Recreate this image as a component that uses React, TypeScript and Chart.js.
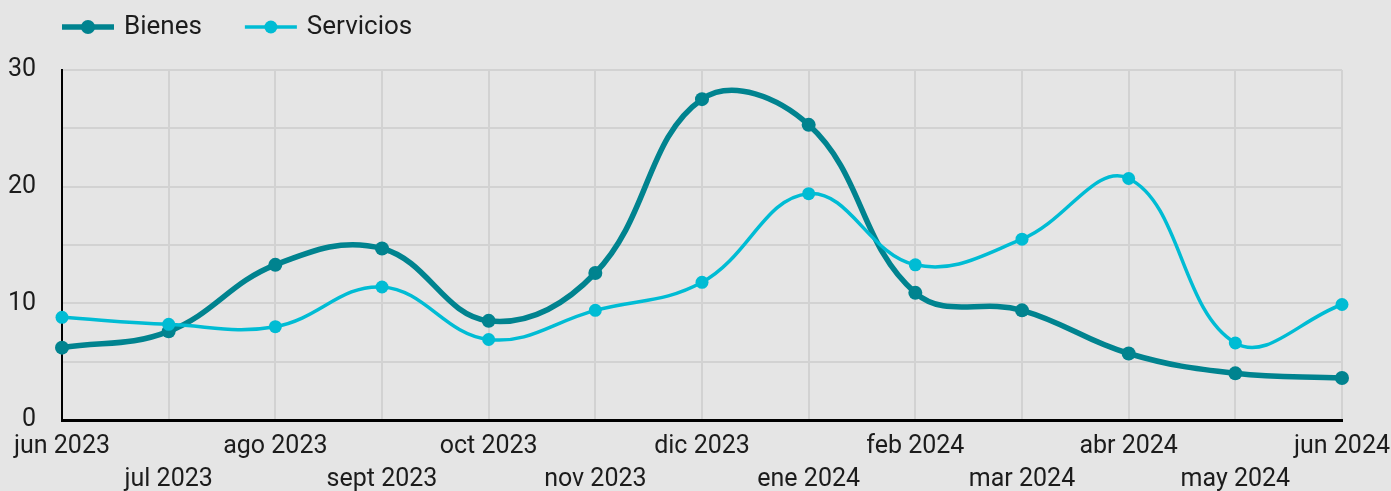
import React, { useEffect, useRef } from 'react';
import { Chart, registerables } from 'chart.js';

Chart.register(...registerables);

const categories = [
  'jun 2023', 'jul 2023', 'ago 2023', 'sept 2023', 'oct 2023', 'nov 2023', 'dic 2023',
  'ene 2024', 'feb 2024', 'mar 2024', 'abr 2024', 'may 2024', 'jun 2024',
];
const bienes = [6.2, 7.6, 13.3, 14.7, 8.5, 12.6, 27.5, 25.3, 10.9, 9.4, 5.7, 4.0, 3.6];
const servicios = [8.8, 8.2, 8.0, 11.4, 6.9, 9.4, 11.8, 19.4, 13.3, 15.5, 20.7, 6.6, 9.9];
const yTickLabels = [0, 10, 20, 30];

const BG = '#e5e5e5';
const GRID = '#d2d2d2';
const TEXT = '#1c1c1c';
const FONT = 'Roboto';

const bgPlugin = {
  id: 'bg',
  beforeDraw(chart: any) {
    const ctx = chart.ctx;
    ctx.save();
    ctx.fillStyle = BG;
    ctx.fillRect(0, 0, chart.width, chart.height);
    ctx.restore();
  },
};

const legendPlugin = {
  id: 'customLegend',
  afterDraw(chart: any) {
    const ctx = chart.ctx;
    let x = chart.chartArea.left;
    const y = 27;
    ctx.save();
    ctx.font = `26px ${FONT}`;
    chart.data.datasets.forEach((ds: any) => {
      ctx.strokeStyle = ds.borderColor;
      ctx.lineWidth = ds.borderWidth;
      ctx.beginPath();
      ctx.moveTo(x, y);
      ctx.lineTo(x + 52, y);
      ctx.stroke();
      ctx.fillStyle = ds.borderColor;
      ctx.beginPath();
      ctx.arc(x + 26, y, ds.pointRadius, 0, Math.PI * 2);
      ctx.fill();
      ctx.fillStyle = TEXT;
      ctx.textBaseline = 'middle';
      ctx.textAlign = 'left';
      ctx.fillText(ds.label, x + 62, y);
      x += 62 + ctx.measureText(ds.label).width + 43;
    });
    ctx.restore();
  },
};

export default function App() {
  const canvasRef = useRef<HTMLCanvasElement | null>(null);

  useEffect(() => {
    document.body.style.margin = '0';
    document.body.style.background = BG;
    document.body.style.overflow = 'hidden';
    const canvas = canvasRef.current;
    if (!canvas) return;
    const chart = new Chart(canvas, {
      type: 'line',
      data: {
        labels: categories,
        datasets: [
          {
            label: 'Bienes',
            data: bienes,
            borderColor: '#00838f',
            backgroundColor: '#00838f',
            pointBackgroundColor: '#00838f',
            borderWidth: 5.5,
            pointRadius: 7,
            pointBorderWidth: 0,
            tension: 0.4,
            clip: false,
            order: 1,
          },
          {
            label: 'Servicios',
            data: servicios,
            borderColor: '#00bcd4',
            backgroundColor: '#00bcd4',
            pointBackgroundColor: '#00bcd4',
            borderWidth: 3.5,
            pointRadius: 6.5,
            pointBorderWidth: 0,
            tension: 0.4,
            clip: false,
            order: 0,
          },
        ],
      },
      options: {
        animation: false,
        responsive: true,
        maintainAspectRatio: false,
        layout: { padding: { top: 70, right: 49, bottom: 0, left: 0 } },
        plugins: {
          legend: { display: false },
          tooltip: { enabled: false },
        },
        scales: {
          x: {
            offset: false,
            grid: { color: GRID, lineWidth: 2, drawTicks: false },
            border: { color: '#000', width: 3 },
            ticks: {
              autoSkip: false,
              maxRotation: 0,
              minRotation: 0,
              padding: 10.5,
              color: TEXT,
              font: { family: FONT, size: 25, lineHeight: 1.32 },
              callback: (_v: any, i: number) => (i % 2 === 0 ? categories[i] : ['', categories[i]]),
            },
            afterFit: (scale: any) => {
              scale.height = 71;
              scale.paddingLeft = 0;
              scale.paddingRight = 0;
            },
          },
          y: {
            min: 0,
            max: 30,
            grid: { color: GRID, lineWidth: 2, drawTicks: false },
            border: { color: '#000', width: 2 },
            ticks: {
              stepSize: 5,
              padding: 26,
              color: TEXT,
              font: { family: FONT, size: 25 },
              callback: (v: any) => (yTickLabels.includes(Number(v)) ? String(v) : ''),
            },
            afterFit: (scale: any) => {
              scale.width = 62;
              scale.paddingTop = 0;
              scale.paddingBottom = 0;
            },
          },
        },
      },
      plugins: [bgPlugin, legendPlugin],
    });
    return () => chart.destroy();
  }, []);

  return (
    <div style={{ width: '1391px', height: '491px', position: 'relative' }}>
      <canvas ref={canvasRef} />
    </div>
  );
}
